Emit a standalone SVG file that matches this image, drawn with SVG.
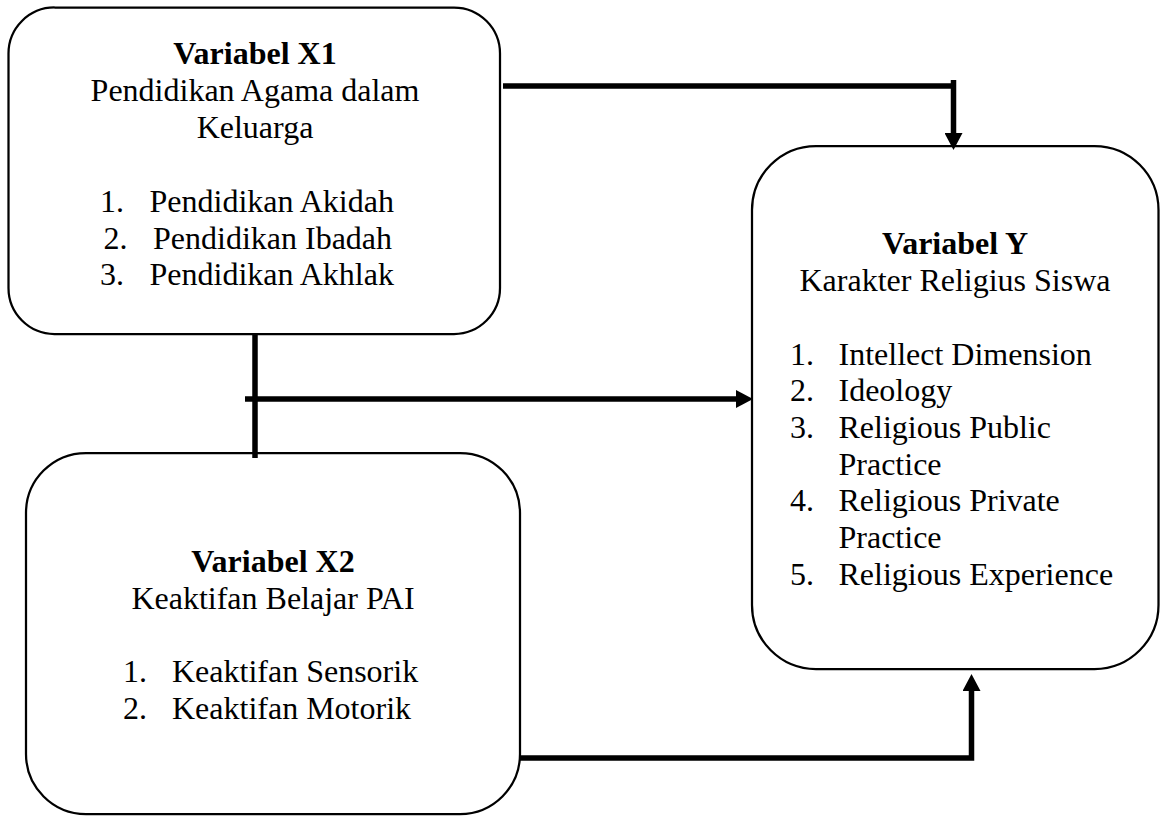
<svg xmlns="http://www.w3.org/2000/svg" width="1171" height="817" viewBox="0 0 1171 817">
<style>
.box{fill:#fff;stroke:#000;stroke-width:2.25}
.t{font-family:"Liberation Serif","Times New Roman",serif;font-size:32px;fill:#000}
.c{text-anchor:middle}
.b{font-weight:bold}
.con{fill:none;stroke:#000;stroke-width:5.5;stroke-linejoin:miter}
</style>
<defs>
<marker id="ah" markerUnits="userSpaceOnUse" markerWidth="18" markerHeight="18" viewBox="0 0 18 18" refX="2" refY="9" orient="auto">
<path d="M0,0 L17,9 L0,18 z" fill="#000"/>
</marker>
</defs>
<rect width="1171" height="817" fill="#fff"/>
<g id="x1">
<rect class="box" x="8.5" y="7.5" width="491.5" height="326.5" rx="46" ry="46"/>
<text class="t c b" x="255" y="64">Variabel X1</text>
<text class="t c" x="255" y="101">Pendidikan Agama dalam</text>
<text class="t c" x="255" y="137.5">Keluarga</text>
<text class="t" x="100" y="212">1.</text><text class="t" x="149.5" y="212">Pendidikan Akidah</text>
<text class="t" x="103.5" y="248.5">2.</text><text class="t" x="153" y="248.5">Pendidikan Ibadah</text>
<text class="t" x="100" y="285">3.</text><text class="t" x="149.5" y="285">Pendidikan Akhlak</text>
</g>
<g id="y">
<rect class="box" x="752" y="146" width="406.5" height="523" rx="64" ry="64"/>
<text class="t c b" x="955" y="254">Variabel Y</text>
<text class="t c" x="955" y="291">Karakter Religius Siswa</text>
<text class="t" x="790" y="364.5">1.</text><text class="t" x="838.5" y="364.5">Intellect Dimension</text>
<text class="t" x="790" y="401">2.</text><text class="t" x="838.5" y="401">Ideology</text>
<text class="t" x="790" y="437.5">3.</text><text class="t" x="838.5" y="437.5">Religious Public</text>
<text class="t" x="838.5" y="474.5">Practice</text>
<text class="t" x="790" y="511">4.</text><text class="t" x="838.5" y="511">Religious Private</text>
<text class="t" x="838.5" y="548">Practice</text>
<text class="t" x="790" y="584.5">5.</text><text class="t" x="838.5" y="584.5">Religious Experience</text>
</g>
<g id="x2">
<rect class="box" x="26" y="453" width="494" height="361" rx="60" ry="60"/>
<text class="t c b" x="273" y="572">Variabel X2</text>
<text class="t c" x="273" y="608.5">Keaktifan Belajar PAI</text>
<text class="t" x="123" y="682">1.</text><text class="t" x="172" y="682">Keaktifan Sensorik</text>
<text class="t" x="123" y="718.5">2.</text><text class="t" x="172" y="718.5">Keaktifan Motorik</text>
</g>
<g id="connectors">
<path class="con" d="M503,86 H956"/>
<path class="con" d="M953.5,80 V135" marker-end="url(#ah)"/>
<path class="con" d="M255,334 V458"/>
<path class="con" d="M245,399 H738" marker-end="url(#ah)"/>
<path class="con" d="M520,758 H971.5 V689" marker-end="url(#ah)"/>
</g>
</svg>
